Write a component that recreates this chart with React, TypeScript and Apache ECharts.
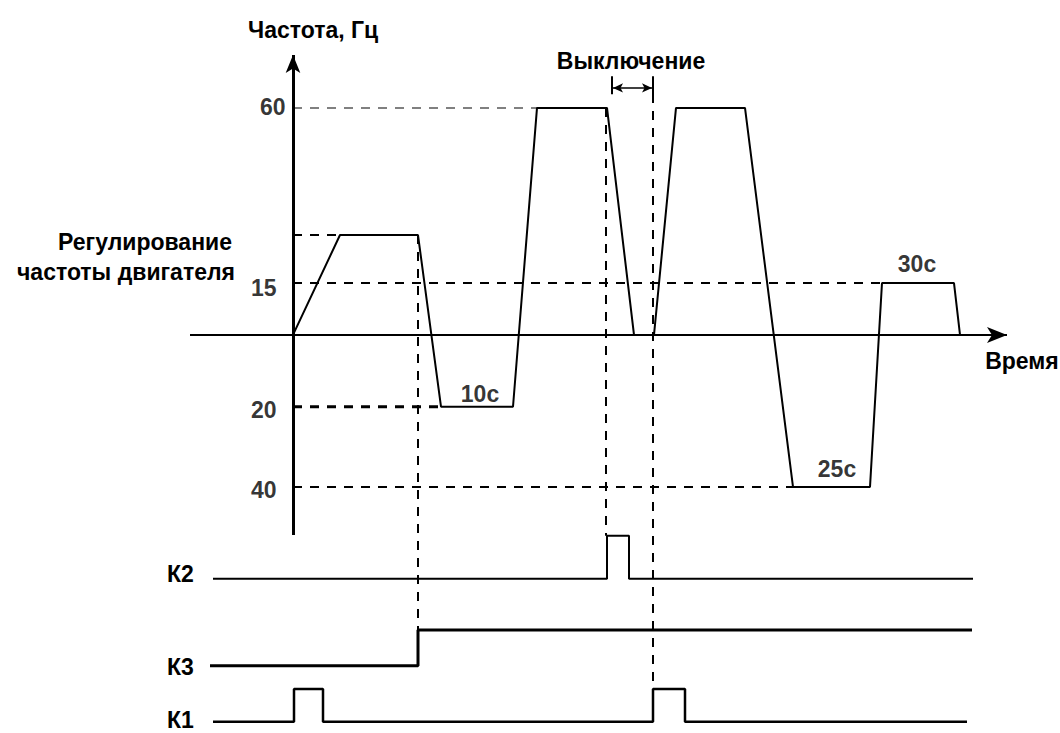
import React, { useEffect, useRef } from "react";
import * as echarts from "echarts";

// ---- Frequency waveform (time in arbitrary units, frequency in drawn Hz units; negative = reverse)
const waveT = [0, 4.7, 12.5, 14.8, 22.0, 24.4, 31.4, 34.1, 36.1, 38.3, 45.2, 50.0, 57.7, 58.9, 66.1, 66.7];
const waveF = [0, 26.4, 26.4, -19.0, -19.0, 60, 60, 0, 0, 60, 60, -40.2, -40.2, 13.7, 13.7, 0];

// ---- Level guides (dashed horizontals) and tick labels
const levelF = [60, 26.4, 13.7, -19.0, -40.2];
const levelLabel = ["60", "", "15", "20", "40"];
const levelGuideEndT = [24.4, 4.7, 58.9, 14.8, 50.0];

// ---- Hold durations
const holdT = [18.7, 54.4, 62.4];
const holdF = [-19.0, -40.2, 13.7];
const holdLabel = ["10с", "25с", "30с"];

// ---- Vertical event markers (dashed)
const markerT = [12.5, 31.3, 36.0];
const markerTopF = [26.4, 60, 68.2];
const markerBottomF = [-78.0, -53.1, -93.6];

// ---- Shutdown interval
const offT = [31.9, 36.0];

// ---- Relay signals (state 0/1 from the given time)
const k2T = [-8.0, 31.4, 33.6, 68.0];
const k2S = [0, 1, 0, 0];
const k3T = [-8.3, 12.5, 67.9];
const k3S = [0, 1, 1];
const k1T = [-8.0, 0.1, 3.0, 36.0, 39.2, 67.4];
const k1S = [0, 1, 0, 1, 0, 0];
const signalNames = ["К2", "К3", "К1"];

// lane layout (base level, high amplitude)
const LANES = [
  { base: -64.5, amp: 11.4, width: 2 },
  { base: -87.5, amp: 9.5, width: 3 },
  { base: -102.3, amp: 8.7, width: 2.5 },
];

const FS = 23;
const FAMILY = '"Liberation Sans", Arial, sans-serif';
const FONT = `bold ${FS}px ${FAMILY}`;
const BLACK = "#000";

export default function App() {
  const ref = useRef<HTMLDivElement>(null);

  useEffect(() => {
    document.body.style.margin = "0";
    const chart = echarts.init(ref.current!, null, { renderer: "svg" });

    const seg = (data: number[][], style: any, z = 3) => ({
      type: "line",
      data,
      symbol: "none",
      silent: true,
      clip: false,
      z,
      lineStyle: { color: BLACK, width: 2, ...style },
    });

    const series: any[] = [];

    // axes via markLine (with arrows)
    series.push({
      type: "line",
      data: [],
      silent: true,
      markLine: {
        silent: true,
        symbol: ["none", "arrow"],
        symbolSize: [11, 18],
        label: { show: false },
        lineStyle: { color: BLACK, width: 3, type: "solid" },
        data: [[{ coord: [0, -52.9] }, { coord: [0, 74] }]],
      },
    });
    series.push({
      type: "line",
      data: [],
      silent: true,
      markLine: {
        silent: true,
        symbol: ["none", "arrow"],
        symbolSize: [12, 20],
        label: { show: false },
        lineStyle: { color: BLACK, width: 2, type: "solid" },
        data: [[{ coord: [-10.3, 0] }, { coord: [71.4, 0] }]],
      },
    });

    // level guides
    levelF.forEach((f, i) => {
      series.push(
        seg(
          [
            [0, f],
            [levelGuideEndT[i], f],
          ],
          {
            type: [9, 8],
            color: i === 0 ? "#808080" : BLACK,
            width: i === 3 ? 3 : 2,
          },
          2
        )
      );
    });

    // vertical markers
    markerT.forEach((t, i) => {
      series.push(
        seg(
          [
            [t, markerTopF[i]],
            [t, markerBottomF[i]],
          ],
          { type: [9, 8], width: 2 },
          2
        )
      );
    });

    // main waveform
    series.push(
      seg(
        waveT.map((t, i) => [t, waveF[i]]),
        { width: 2 },
        5
      )
    );

    // shutdown interval double arrow
    series.push({
      type: "line",
      data: [],
      silent: true,
      markLine: {
        silent: true,
        symbol: ["arrow", "arrow"],
        symbolSize: [7, 10],
        label: { show: false },
        lineStyle: { color: BLACK, width: 1.5, type: "solid" },
        data: [[{ coord: [offT[0] + 0.1, 65.3] }, { coord: [offT[1] - 0.1, 65.3] }]],
      },
    });
    offT.forEach((t) => {
      series.push(
        seg(
          [
            [t, 68.4],
            [t, 63.6],
          ],
          { width: 2 }
        )
      );
    });

    // relay signals
    [
      [k2T, k2S],
      [k3T, k3S],
      [k1T, k1S],
    ].forEach(([ts, ss], li) => {
      const lane = LANES[li];
      series.push({
        type: "line",
        step: "end",
        data: ts.map((t, i) => [t, lane.base + ss[i] * lane.amp]),
        symbol: "none",
        silent: true,
        z: 4,
        lineStyle: { color: BLACK, width: lane.width },
      });
    });

    const labelBase = {
      color: BLACK,
      fontSize: FS,
      fontWeight: "bold",
      fontFamily: FAMILY,
    };

    // tick labels for levels
    const tickOffsets = [
      { distance: 7, dy: -1 },
      { distance: 0, dy: 0 },
      { distance: 16, dy: 5 },
      { distance: 16, dy: 3 },
      { distance: 16, dy: 3 },
    ];
    series.push({
      type: "scatter",
      silent: true,
      symbolSize: 1,
      itemStyle: { color: "rgba(0,0,0,0)" },
      z: 6,
      data: levelF.map((f, i) => ({
        value: [0, f],
        label: {
          ...labelBase,
          show: levelLabel[i] !== "",
          position: "left",
          distance: tickOffsets[i].distance,
          offset: [0, tickOffsets[i].dy],
          formatter: levelLabel[i],
        },
      })),
    });

    // hold duration labels
    const holdDy = [-13, -18, -19];
    series.push({
      type: "scatter",
      silent: true,
      symbolSize: 1,
      itemStyle: { color: "rgba(0,0,0,0)" },
      z: 6,
      data: holdT.map((t, i) => ({
        value: [t, holdF[i]],
        label: {
          ...labelBase,
          show: true,
          position: "inside",
          offset: [0, holdDy[i]],
          formatter: holdLabel[i],
        },
      })),
    });

    const txt = (text: string, x: number, y: number, align = "left") => ({
      type: "text",
      x,
      y,
      silent: true,
      style: { text, font: FONT, fill: BLACK, align, verticalAlign: "middle" },
    });

    chart.setOption({
      animation: false,
      backgroundColor: "#fff",
      grid: { left: 190, top: 55, width: 817, height: 677 },
      xAxis: { type: "value", min: -10.3, max: 71.4, show: false },
      yAxis: { type: "value", min: -105, max: 74, show: false },
      series,
      graphic: [
        txt("Частота, Гц", 248, 30),
        txt("Выключение", 631, 61, "center"),
        txt("Регулирование", 232, 242, "right"),
        txt("частоты двигателя", 235, 272, "right"),
        txt("Время", 1022, 361, "center"),
        txt(signalNames[0], 167, 574),
        txt(signalNames[1], 167, 667),
        txt(signalNames[2], 167, 720),
      ],
    });

    return () => chart.dispose();
  }, []);

  return <div ref={ref} style={{ width: 1060, height: 733 }} />;
}
